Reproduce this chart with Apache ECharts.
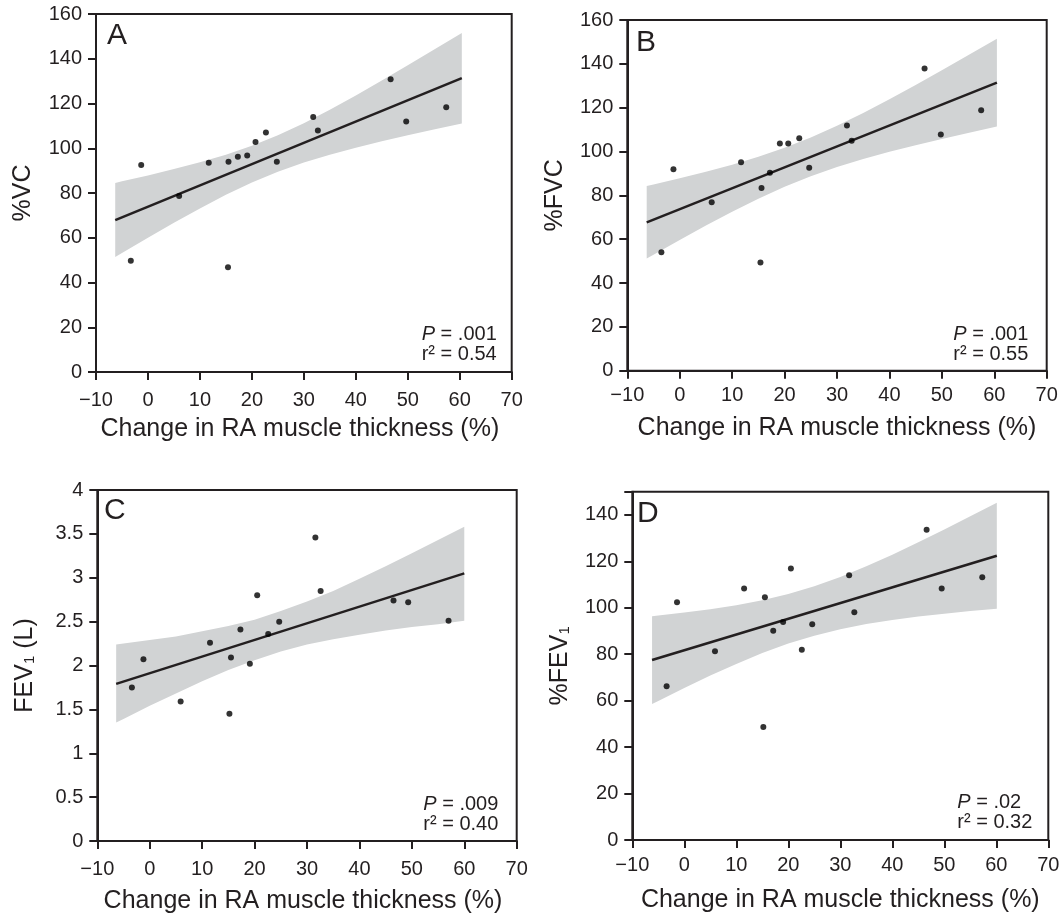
<!DOCTYPE html>
<html>
<head>
<meta charset="utf-8">
<script src="https://cdn.jsdelivr.net/npm/echarts@6/dist/echarts.min.js"></script>
<style>
  html, body { margin: 0; padding: 0; background: #fff; }
  #main { width: 1064px; height: 915px; }
</style>
</head>
<body>
<div id="main"></div>
<script>
// RA muscle thickness change vs lung function, four panels

// x ticks (shared)
const xTicks = { min: -10, max: 70, step: 10 };

// panel A: %VC
const xA = [-3.3, -1.3, 6.0, 11.7, 15.4, 15.5, 17.3, 19.1, 20.7, 22.7, 24.8, 31.8, 32.7, 46.7, 49.7, 57.4];
const yA = [49.7, 92.5, 78.7, 93.5, 46.8, 94.0, 96.2, 96.8, 102.8, 107.0, 94.0, 114.0, 107.9, 130.8, 111.9, 118.3];
const fitA_x = [-6.3, 60.4];
const fitA_y = [67.9, 131.3];
const bandA_x = [-6.3, -5, 0, 5, 10, 15, 20, 25, 30, 35, 40, 45, 50, 55, 60.4];
const bandA_lo = [51.4, 53.2, 60.0, 66.7, 73.1, 79.2, 84.7, 89.5, 93.6, 97.1, 100.2, 103.1, 105.8, 108.4, 111.1];
const bandA_hi = [84.5, 85.2, 87.8, 90.7, 93.7, 97.1, 101.1, 105.8, 111.2, 117.2, 123.6, 130.3, 137.1, 144.0, 151.5];

// panel B: %FVC
const xB = [-3.5, -1.2, 6.1, 11.7, 15.4, 15.6, 17.2, 19.1, 20.7, 22.8, 24.7, 31.9, 32.8, 46.7, 49.8, 57.5];
const yB = [54.0, 91.9, 76.8, 95.1, 49.4, 83.4, 90.3, 103.7, 103.7, 106.0, 92.6, 111.9, 104.9, 137.9, 107.8, 118.8];
const fitB_x = [-6.3, 60.5];
const fitB_y = [67.7, 131.4];
const bandB_x = [-6.3, -5, 0, 5, 10, 15, 20, 25, 30, 35, 40, 45, 50, 55, 60.5];
const bandB_lo = [51.2, 52.9, 59.6, 66.2, 72.5, 78.4, 83.9, 88.7, 92.9, 96.6, 99.9, 102.9, 105.7, 108.5, 111.4];
const bandB_hi = [84.3, 85.0, 87.8, 90.8, 94.0, 97.6, 101.7, 106.4, 111.8, 117.6, 123.9, 130.4, 137.1, 143.9, 151.4];

// panel C: FEV1 (L)
const xC = [-3.4, -1.2, 5.9, 11.5, 15.2, 15.5, 17.3, 19.1, 20.5, 22.6, 24.7, 31.6, 32.6, 46.5, 49.3, 57.0];
const yC = [1.75, 2.07, 1.59, 2.26, 1.45, 2.09, 2.41, 2.02, 2.80, 2.36, 2.50, 3.46, 2.85, 2.74, 2.72, 2.51];
const fitC_x = [-6.4, 60.0];
const fitC_y = [1.79, 3.05];
const bandC_x = [-6.4, -5, 0, 5, 10, 15, 20, 25, 30, 35, 40, 45, 50, 55, 60.0];
const bandC_lo = [1.35, 1.39, 1.54, 1.68, 1.82, 1.95, 2.06, 2.16, 2.24, 2.30, 2.35, 2.40, 2.44, 2.47, 2.51];
const bandC_hi = [2.24, 2.25, 2.29, 2.33, 2.39, 2.45, 2.52, 2.62, 2.73, 2.85, 2.99, 3.13, 3.28, 3.43, 3.58];

// panel D: %FEV1
const xD = [-3.4, -1.4, 5.9, 11.5, 15.2, 15.5, 17.1, 19.0, 20.5, 22.6, 24.6, 31.7, 32.7, 46.6, 49.5, 57.3];
const yD = [66.2, 102.4, 81.3, 108.3, 48.7, 104.5, 90.1, 93.9, 116.9, 81.9, 92.9, 114.0, 98.1, 133.6, 108.3, 113.2];
const fitD_x = [-6.2, 60.1];
const fitD_y = [77.5, 122.4];
const bandD_x = [-6.2, -5, 0, 5, 10, 15, 20, 25, 30, 35, 40, 45, 50, 55, 60.1];
const bandD_lo = [58.6, 59.9, 65.5, 70.8, 75.8, 80.5, 84.6, 88.0, 90.8, 93.0, 94.7, 96.2, 97.4, 98.6, 99.6];
const bandD_hi = [96.4, 96.7, 98.0, 99.4, 101.1, 103.3, 105.9, 109.3, 113.3, 117.9, 122.9, 128.2, 133.7, 139.4, 145.2];

const stats = [
  ['.001', '0.54'],
  ['.001', '0.55'],
  ['.009', '0.40'],
  ['.02', '0.32']
];

const FONT = "'Liberation Sans', Arial, Helvetica, sans-serif";
const INK = '#231f20';
const GREY = '#d1d3d4';

const chart = echarts.init(document.getElementById('main'));

function zip(xs, ys) {
  return xs.map((x, i) => [x, ys[i]]);
}

function xAxis(i, margin, shift, gap) {
  return {
    type: 'value', gridIndex: i,
    min: xTicks.min, max: xTicks.max, interval: xTicks.step,
    name: 'Change in RA muscle thickness (%)',
    nameLocation: 'middle', nameGap: gap,
    nameTextStyle: { fontSize: 25, color: INK, fontFamily: FONT, padding: [0, shift, 0, 0] },
    axisLine: { show: true, onZero: false, lineStyle: { color: INK, width: 2 } },
    axisTick: { show: true, length: 8, lineStyle: { color: INK, width: 2 } },
    axisLabel: {
      margin: margin, fontSize: 20, color: INK, fontFamily: FONT,
      formatter: v => String(v).replace('-', '\u2212')
    },
    splitLine: { show: false }
  };
}

function yAxis(i, max, step, name) {
  return {
    type: 'value', gridIndex: i, min: 0, max: max, interval: step,
    name: name, nameLocation: 'middle', nameGap: 60,
    nameTextStyle: {
      fontSize: 25, color: INK, fontFamily: FONT,
      rich: { s: { fontSize: 15, lineHeight: 8, verticalAlign: 'bottom', fontFamily: FONT, color: INK } }
    },
    axisLine: { show: true, onZero: false, lineStyle: { color: INK, width: 2 } },
    axisTick: { show: true, length: 8, lineStyle: { color: INK, width: 2 } },
    axisLabel: {
      margin: 14, fontSize: 20, color: INK, fontFamily: FONT,
      formatter: v => (v > max - step / 2 && v % step !== 0) ? '' : String(v)
    },
    splitLine: { show: false }
  };
}

function band(i, bx, lo, hi) {
  return {
    type: 'custom', xAxisIndex: i, yAxisIndex: i, silent: true, z: 1,
    data: [[bx[0], lo[0]]],
    renderItem: function (params, api) {
      const pts = [];
      bx.forEach((x, k) => pts.push(api.coord([x, hi[k]])));
      for (let k = bx.length - 1; k >= 0; k--) pts.push(api.coord([bx[k], lo[k]]));
      return { type: 'polygon', shape: { points: pts }, style: { fill: GREY } };
    }
  };
}

function fit(i, fx, fy) {
  return {
    type: 'line', xAxisIndex: i, yAxisIndex: i, z: 2,
    data: zip(fx, fy), showSymbol: false, silent: true,
    lineStyle: { color: INK, width: 2.5 }
  };
}

function dots(i, xs, ys) {
  return {
    type: 'scatter', xAxisIndex: i, yAxisIndex: i, z: 3,
    data: zip(xs, ys), symbolSize: 6,
    itemStyle: { color: '#000' }
  };
}

function label(txt, left, top) {
  return {
    type: 'text', left: left, top: top, z: 10,
    style: { text: txt, font: '30px ' + FONT, fill: INK }
  };
}

function stat(k, left, top) {
  return [
    {
      type: 'text', left: left, top: top, z: 10,
      style: {
        text: '{i|P} = ' + stats[k][0], font: '20px ' + FONT, fill: INK,
        rich: { i: { fontStyle: 'italic', fontSize: 20, fontFamily: FONT, fill: INK } }
      }
    },
    {
      type: 'text', left: left, top: top + 20, z: 10,
      style: { text: 'r\u00b2 = ' + stats[k][1], font: '20px ' + FONT, fill: INK }
    }
  ];
}

const gridStyle = { show: true, borderColor: INK, borderWidth: 2, backgroundColor: 'transparent' };

chart.setOption({
  animation: false,
  grid: [
    Object.assign({ left: 96, top: 14, width: 415.7, height: 358 }, gridStyle),
    Object.assign({ left: 627.3, top: 20, width: 419.4, height: 350.7 }, gridStyle),
    Object.assign({ left: 97.3, top: 490, width: 419.4, height: 351.7 }, gridStyle),
    Object.assign({ left: 632.3, top: 491.7, width: 416, height: 348.3 }, gridStyle)
  ],
  xAxis: [xAxis(0, 18, 8, 45), xAxis(1, 15, 0, 45), xAxis(2, 18, 8, 48), xAxis(3, 15, 0, 48)],
  yAxis: [
    yAxis(0, 160, 20, '%VC'),
    yAxis(1, 160, 20, '%FVC'),
    yAxis(2, 4, 0.5, 'FEV{s|1} (L)'),
    yAxis(3, 150, 20, '%FEV{s|1}')
  ],
  series: [
    band(0, bandA_x, bandA_lo, bandA_hi), fit(0, fitA_x, fitA_y), dots(0, xA, yA),
    band(1, bandB_x, bandB_lo, bandB_hi), fit(1, fitB_x, fitB_y), dots(1, xB, yB),
    band(2, bandC_x, bandC_lo, bandC_hi), fit(2, fitC_x, fitC_y), dots(2, xC, yC),
    band(3, bandD_x, bandD_lo, bandD_hi), fit(3, fitD_x, fitD_y), dots(3, xD, yD)
  ],
  graphic: [
    label('A', 107, 21),
    label('B', 636, 28),
    label('C', 104, 496),
    label('D', 637, 499)
  ].concat(
    stat(0, 421.7, 324),
    stat(1, 953.3, 324),
    stat(2, 423.3, 794),
    stat(3, 957.3, 792)
  )
});
</script>
</body>
</html>
